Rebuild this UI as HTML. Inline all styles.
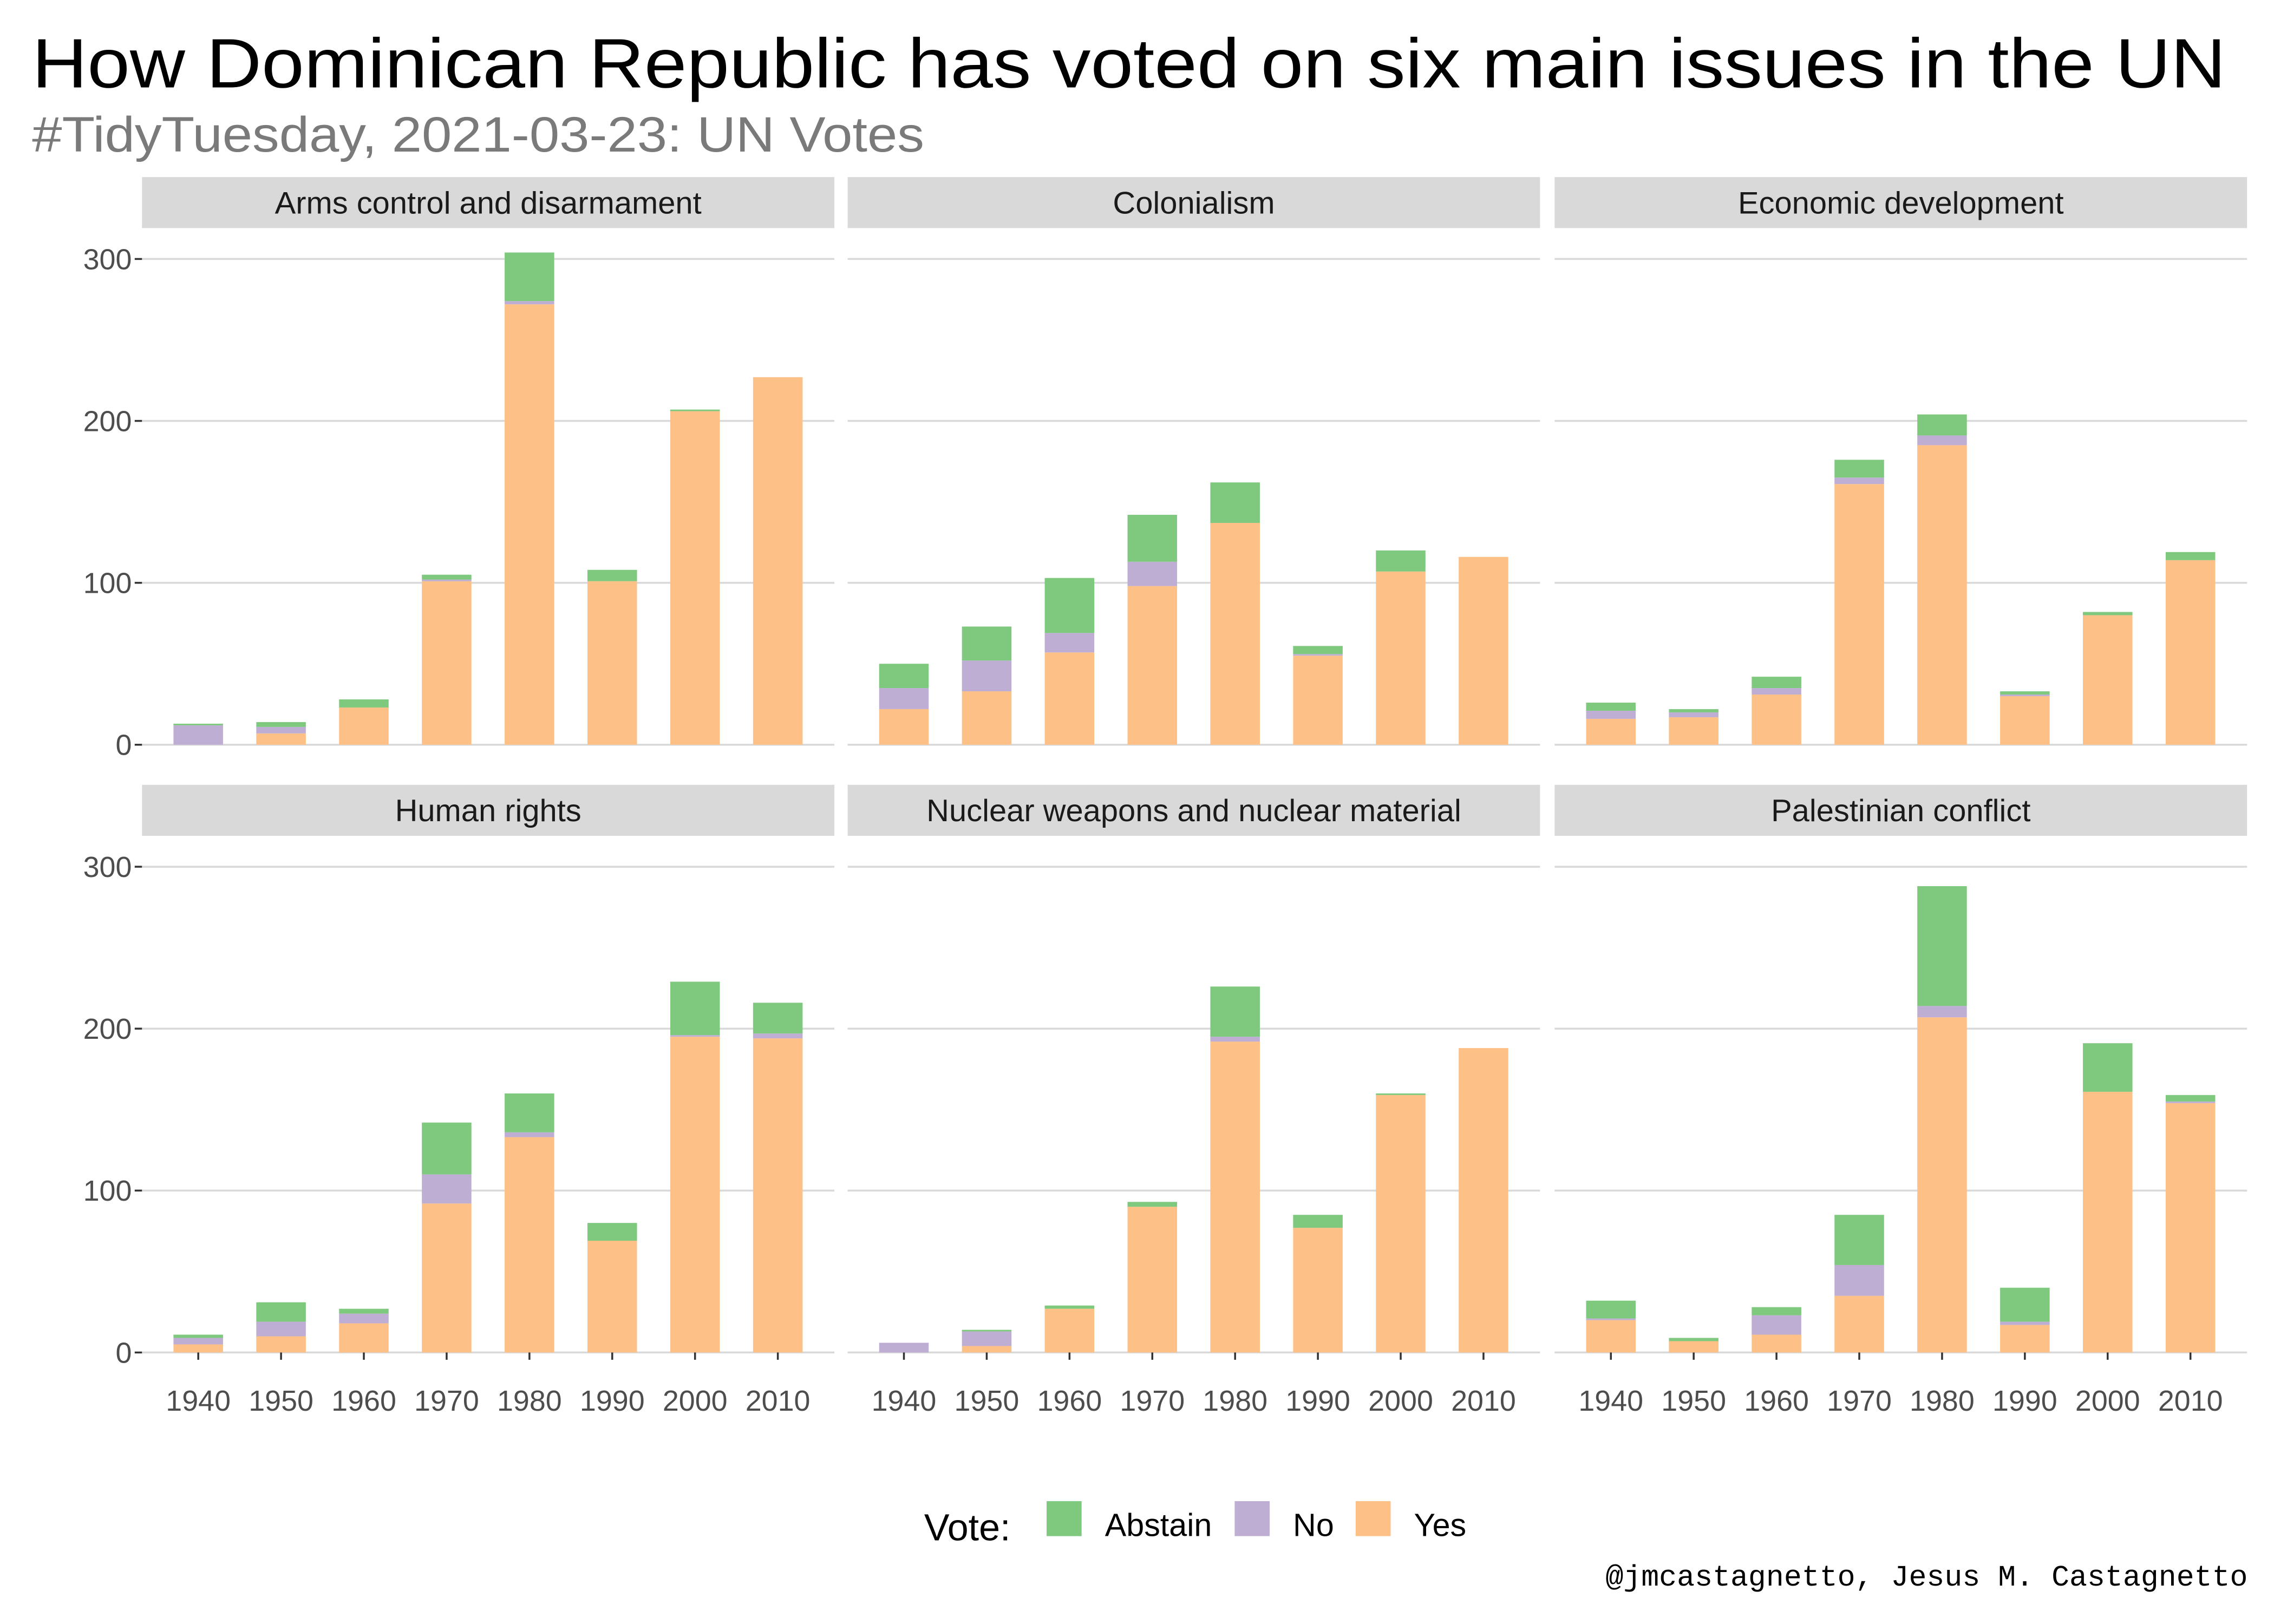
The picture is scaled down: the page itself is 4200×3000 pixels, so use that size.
<!DOCTYPE html>
<html><head><meta charset="utf-8">
<style>html,body{margin:0;padding:0;background:#fff;}svg{display:block;}</style>
</head><body>
<svg id="chart" xmlns="http://www.w3.org/2000/svg" width="4200" height="3000" viewBox="0 0 1560 1114.3" font-family="Liberation Sans, sans-serif">
<rect width="1560" height="1114.3" fill="#fff"/>
<text x="22" y="60" font-size="48" fill="#000" textLength="1505" lengthAdjust="spacingAndGlyphs">How Dominican Republic has voted on six main issues in the UN</text>
<text x="22" y="104" font-size="34" fill="#7a7a7a" textLength="612" lengthAdjust="spacingAndGlyphs">#TidyTuesday, 2021-03-23: UN Votes</text>
<g id="panels"></g>
<g>
<text x="634" y="1057" font-size="26">Vote:</text>
<rect x="718" y="1030" width="24" height="24" fill="#7fc97f"/>
<text x="758" y="1054" font-size="22">Abstain</text>
<rect x="847" y="1030" width="24" height="24" fill="#beaed4"/>
<text x="887" y="1054" font-size="22">No</text>
<rect x="930" y="1030" width="24" height="24" fill="#fdc086"/>
<text x="970" y="1054" font-size="22">Yes</text>
</g>
<text x="1542" y="1088" text-anchor="end" font-size="20.4" font-family="Liberation Mono, monospace">@jmcastagnetto, Jesus M. Castagnetto</text>
</svg>
<script>
const decades = ["1940","1950","1960","1970","1980","1990","2000","2010"];
const issues = ["Arms control and disarmament","Colonialism","Economic development","Human rights","Nuclear weapons and nuclear material","Palestinian conflict"];
const yesVals = [
 [0,7,23,101,272,101,206,227],
 [22,33,57,98,137,55,107,116],
 [16,17,31,161,185,30,80,114],
 [5,10,18,92,133,69,195,194],
 [0,4,27,90,192,77,159,188],
 [20,7,11,35,207,17,161,154]];
const noVals = [
 [12,4,0,1,2,0,0,0],
 [13,19,12,15,0,1,0,0],
 [5,3,4,4,6,1,0,0],
 [4,9,6,18,3,0,1,3],
 [6,9,0,0,3,0,0,0],
 [1,0,12,19,7,2,0,1]];
const abstainVals = [
 [1,3,5,3,30,7,1,0],
 [15,21,34,29,25,5,13,0],
 [5,2,7,11,13,2,2,5],
 [2,12,3,32,24,11,33,19],
 [0,1,2,3,31,8,1,0],
 [11,2,5,31,74,21,30,4]];
const yTicks = [0,100,200,300];

const NS = "http://www.w3.org/2000/svg";
const root = document.getElementById("panels");
const colX = [97.4, 581.5, 1066.5];
const panelW = 475;
const rowZero = [511, 928];
const rowStrip = [121.5, 538.5];
const pxPerUnit = 111.1/100;
function mk(tag, attrs, parent){const e=document.createElementNS(NS,tag);for(const k in attrs)e.setAttribute(k,attrs[k]);parent.appendChild(e);return e;}
function xScale(p,i){return colX[p%3] + 38.6 + i*56.8;}
function yScale(p,v){return rowZero[Math.floor(p/3)] - v*pxPerUnit;}

issues.forEach((name,p)=>{
  const col=p%3,row=Math.floor(p/3);
  const g=mk("g",{},root);
  
  
  const s=mk("rect",{x:colX[col],y:rowStrip[row],width:panelW,height:35,fill:"#d9d9d9"},g);
  
  
  const st=mk("text",{x:colX[col]+panelW/2,y:rowStrip[row]+25,"font-size":21.5,"text-anchor":"middle",fill:"#1a1a1a"},g);
  st.textContent=name;
  
  
  yTicks.forEach(t=>{
    const y=yScale(p,t);
    const gl=mk("line",{x1:colX[col],x2:colX[col]+panelW,y1:y,y2:y,stroke:"#d9d9d9","stroke-width":1.3},g);
    
    
    if(col===0){
      const tk=mk("line",{x1:colX[0]-5,x2:colX[0],y1:y,y2:y,stroke:"#333","stroke-width":1.3},g);
      
      
      const tl=mk("text",{x:colX[0]-7,y:y+7,"font-size":20,"text-anchor":"end",fill:"#4d4d4d"},g);
      tl.textContent=t;
      
      
    }
  });
  decades.forEach((d,i)=>{
    const cx=xScale(p,i), w=34;
    const segs=[[yesVals[p][i],"#fdc086","yes"],[noVals[p][i],"#beaed4","no"],[abstainVals[p][i],"#7fc97f","abstain"]];
    let base=0;
    segs.forEach(([v,c,n])=>{
      if(v<=0)return;
      const y1=yScale(p,base+v), y0=yScale(p,base);
      const r=mk("rect",{x:cx-w/2,y:y1,width:w,height:y0-y1,fill:c},g);
      
      
      base+=v;
    });
    if(row===1){
      const tk=mk("line",{x1:cx,x2:cx,y1:rowZero[1],y2:rowZero[1]+5,stroke:"#333","stroke-width":1.3},g);
      
      
      const xl=mk("text",{x:cx,y:rowZero[1]+40,"font-size":20,"text-anchor":"middle",fill:"#4d4d4d"},g);
      xl.textContent=d;
      
      
    }
  });
});
</script>
</body></html>
